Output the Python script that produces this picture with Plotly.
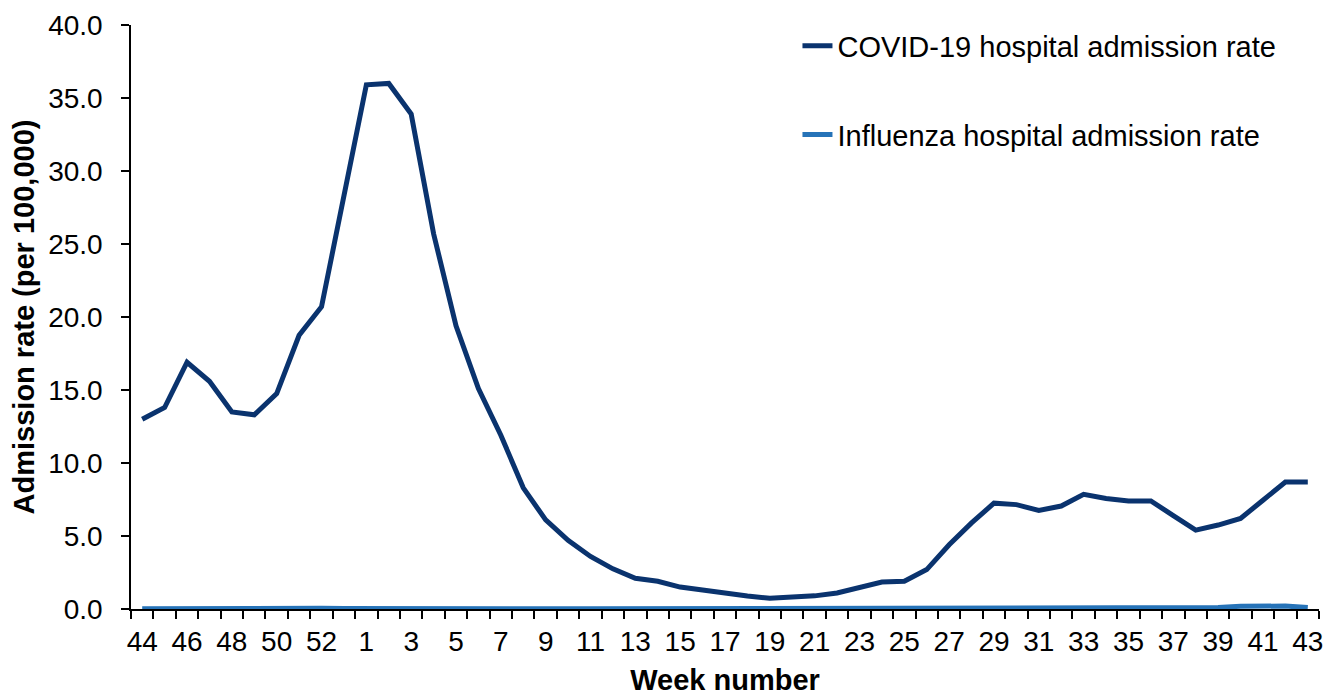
import numpy as np
import plotly.graph_objects as go

# ISO week labels, week 44 of one year to week 43 of the next (53-week year)
weeks = [str(w) for w in range(44, 54)] + [str(w) for w in range(1, 44)]

# Weekly hospital admission rates per 100,000
covid_rate = [
    13.0, 13.8, 16.9, 15.6, 13.5, 13.3, 14.75, 18.75, 20.7, 28.3,
    35.9, 36.0, 33.9, 25.7, 19.4, 15.1, 11.9, 8.3, 6.1, 4.7,
    3.6, 2.75, 2.1, 1.9, 1.5, 1.3, 1.07, 0.89, 0.73, 0.8,
    0.9, 1.1, 1.5, 1.85, 1.9, 2.7, 4.4, 5.9, 7.25, 7.15,
    6.75, 7.05, 7.85, 7.57, 7.4, 7.4, 6.4, 5.4, 5.75, 6.2,
    7.45, 8.7, 8.7,
]
flu_rate = [
    0.02, 0.03, 0.05, 0.08, 0.06, 0.03, 0.03, 0.04, 0.05, 0.04,
    0.03, 0.02, 0.02, 0.02, 0.03, 0.05, 0.02, 0.02, 0.02, 0.02,
    0.02, 0.02, 0.02, 0.02, 0.02, 0.02, 0.02, 0.02, 0.02, 0.02,
    0.02, 0.02, 0.02, 0.02, 0.02, 0.02, 0.02, 0.02, 0.02, 0.02,
    0.02, 0.02, 0.02, 0.02, 0.02, 0.02, 0.03, 0.06, 0.1, 0.19,
    0.2, 0.2, 0.1,
]
y_ticks = [0, 5, 10, 15, 20, 25, 30, 35, 40]

idx = np.arange(len(weeks))
font = "Arial, Liberation Sans, sans-serif"
fs = 28

fig = go.Figure()
fig.add_trace(go.Scatter(
    x=idx, y=flu_rate, mode="lines", name="Influenza hospital admission rate",
    line=dict(color="#2673B8", width=5), legendgroup="b", legendrank=2,
))
fig.add_trace(go.Scatter(
    x=idx, y=covid_rate, mode="lines", name="COVID-19 hospital admission rate",
    line=dict(color="#0A336E", width=5), legendgroup="a", legendrank=1,
))

fig.update_layout(
    width=1327, height=696,
    margin=dict(l=131, r=8, t=25, b=87),
    paper_bgcolor="white", plot_bgcolor="white",
    font=dict(family=font, size=fs, color="black"),
    legend=dict(
        x=0.561, y=1.008, xanchor="left", yanchor="top",
        traceorder="grouped", tracegroupgap=48,
        font=dict(size=29), bgcolor="rgba(0,0,0,0)",
    ),
    xaxis=dict(
        range=[-0.5, 52.5], automargin=False,
        tickmode="array", tickvals=idx[::2], ticktext=weeks[::2],
        ticks="", ticklabelstandoff=7,
        showline=True, linecolor="black", linewidth=1.5,
        showgrid=False, zeroline=False,
        minor=dict(tickmode="array", tickvals=list(np.arange(-0.5, 53, 1.0)),
                   ticks="outside", ticklen=8, tickwidth=1.5, tickcolor="black",
                   showgrid=False),
        title=dict(text="<b>Week number</b>", font=dict(size=29), standoff=17),
        tickfont=dict(size=fs),
    ),
    yaxis=dict(
        range=[0, 40], automargin=False,
        tickmode="array", tickvals=y_ticks, ticktext=[f"{v:.1f}" for v in y_ticks],
        ticks="outside", ticklen=8, tickwidth=1.5, tickcolor="black",
        ticklabelstandoff=13,
        showline=True, linecolor="black", linewidth=1.5,
        showgrid=False, zeroline=False,
        title=dict(text="<b>Admission rate (per 100,000)</b>", font=dict(size=29), standoff=5),
        tickfont=dict(size=fs),
    ),
)

fig.write_html("out.html")
